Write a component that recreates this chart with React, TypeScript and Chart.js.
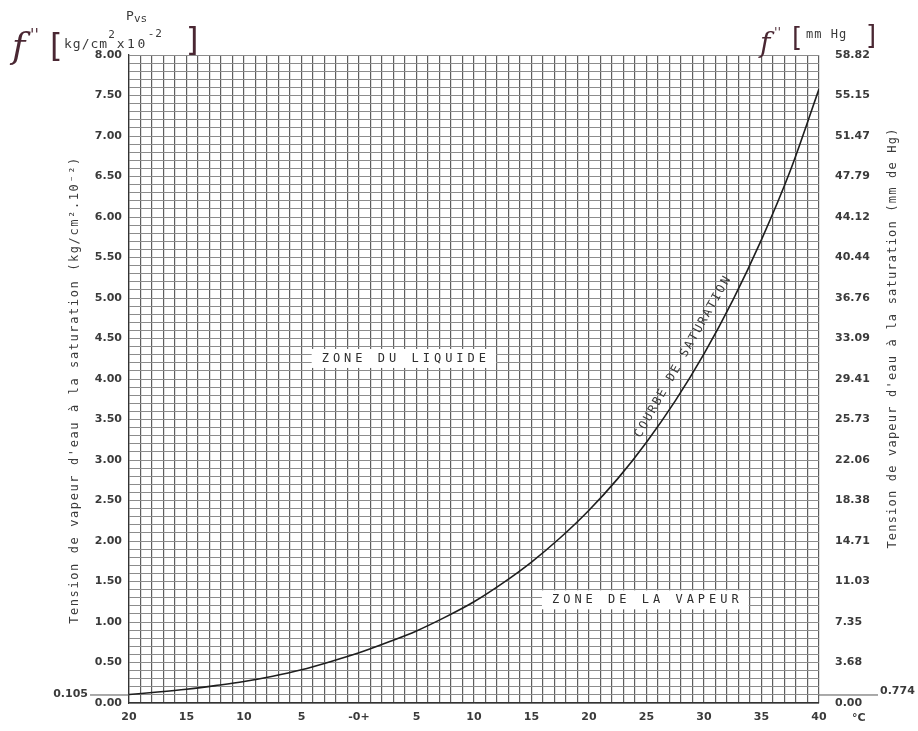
import { useEffect, useRef } from 'react';
import { Chart, registerables } from 'chart.js';

Chart.register(...registerables);

// Temperature (°C) and saturation vapour pressure (kg/cm² x 10⁻²)
const temperatures = [-20, -17.5, -15, -12.5, -10, -7.5, -5, -2.5, 0, 2.5, 5, 7.5, 10, 12.5, 15, 17.5, 20, 22.5, 25, 27.5, 30, 32.5, 35, 37.5, 40];
const pvsValues = [0.105, 0.135, 0.17, 0.215, 0.265, 0.33, 0.41, 0.51, 0.62, 0.75, 0.89, 1.06, 1.25, 1.48, 1.74, 2.04, 2.38, 2.77, 3.22, 3.73, 4.31, 4.97, 5.72, 6.57, 7.58];

const xLabelValues = [-20, -15, -10, -5, 0, 5, 10, 15, 20, 25, 30, 35, 40];
const xLabelTexts = ['20', '15', '10', '5', '-0+', '5', '10', '15', '20', '25', '30', '35', '40'];
const leftTickLabels = ['0.00', '0.50', '1.00', '1.50', '2.00', '2.50', '3.00', '3.50', '4.00', '4.50', '5.00', '5.50', '6.00', '6.50', '7.00', '7.50', '8.00'];
const rightTickLabels = ['0.00', '3.68', '7.35', '11.03', '14.71', '18.38', '22.06', '25.73', '29.41', '33.09', '36.76', '40.44', '44.12', '47.79', '51.47', '55.15', '58.82'];
const mmHgMax = 58.82;
const pvsMax = 8;
const lowLeftValue = 0.105;
const lowLeftLabel = '0.105';
const lowRightLabel = '0.774';

const TICK_FONT = '"DejaVu Sans"';
const MONO = '"DejaVu Sans Mono"';
const INK = '#3a3a3a';
const HAND = '#4a2733';

const overlay = {
  id: 'overlay',
  afterDraw(chart: any) {
    const { ctx, chartArea } = chart;
    const x = chart.scales.x;
    const y = chart.scales.y;
    ctx.save();

    // zone labels with white boxes
    const zone = (text: string, tx: number, ty: number) => {
      const px = x.getPixelForValue(tx);
      const py = y.getPixelForValue(ty);
      ctx.font = `12px ${MONO}`;
      (ctx as any).letterSpacing = '4px';
      const w = ctx.measureText(text).width - 4;
      ctx.fillStyle = '#ffffff';
      ctx.fillRect(px - w / 2 - 10, py - 9, w + 20, 19);
      ctx.fillStyle = '#2e2e2e';
      ctx.textAlign = 'left';
      ctx.textBaseline = 'middle';
      ctx.fillText(text, px - w / 2, py + 1);
    };
    zone('ZONE DU LIQUIDE', 3.9, 4.26);
    zone('ZONE DE LA VAPEUR', 24.9, 1.28);

    // curve label, rotated along the curve
    {
      const px = x.getPixelForValue(28.2);
      const py = y.getPixelForValue(4.28);
      ctx.translate(px, py);
      ctx.rotate(-60.5 * Math.PI / 180);
      ctx.font = `12px ${MONO}`;
      (ctx as any).letterSpacing = '2px';
      ctx.fillStyle = INK;
      ctx.textAlign = 'center';
      ctx.textBaseline = 'middle';
      ctx.fillText('COURBE DE SATURATION', 0, 0);
      ctx.setTransform(1, 0, 0, 1, 0, 0);
    }

    // axis titles
    (ctx as any).letterSpacing = '1.6px';
    ctx.font = `12px ${MONO}`;
    ctx.fillStyle = INK;
    ctx.textAlign = 'center';
    ctx.textBaseline = 'middle';
    ctx.translate(75, 390);
    ctx.rotate(-Math.PI / 2);
    ctx.fillText("Tension de vapeur d'eau à la saturation (kg/cm².10⁻²)", 0, 0);
    ctx.setTransform(1, 0, 0, 1, 0, 0);
    (ctx as any).letterSpacing = '1.2px';
    ctx.translate(893, 338);
    ctx.rotate(-Math.PI / 2);
    ctx.fillText("Tension de vapeur d'eau à la saturation (mm de Hg)", 0, 0);
    ctx.setTransform(1, 0, 0, 1, 0, 0);

    // extra low labels with leader lines
    const lowY = y.getPixelForValue(lowLeftValue);
    ctx.strokeStyle = '#555';
    ctx.lineWidth = 1;
    ctx.beginPath();
    ctx.moveTo(90, lowY + 0.5);
    ctx.lineTo(chartArea.left, lowY + 0.5);
    ctx.moveTo(chartArea.right, lowY + 0.5);
    ctx.lineTo(878, lowY + 0.5);
    ctx.stroke();
    (ctx as any).letterSpacing = '0px';
    ctx.font = `bold 11px ${TICK_FONT}`;
    ctx.textAlign = 'right';
    ctx.fillText(lowLeftLabel, 88, lowY);
    ctx.textAlign = 'left';
    ctx.fillText(lowRightLabel, 880, lowY - 3);
    ctx.fillText('°C', 852, chartArea.bottom + 15);

    // header left
    ctx.textAlign = 'left';
    ctx.textBaseline = 'alphabetic';
    ctx.font = `13px ${MONO}`;
    ctx.fillText('P', 126, 20);
    ctx.font = `11px ${MONO}`;
    ctx.fillText('vs', 134, 22);
    let hx = 64;
    (ctx as any).letterSpacing = '1px';
    ctx.font = `13px ${MONO}`;
    ctx.fillText('kg/cm', hx, 48);
    hx += ctx.measureText('kg/cm').width;
    ctx.font = `11px ${MONO}`;
    ctx.fillText('2', hx, 38);
    hx += ctx.measureText('2').width;
    (ctx as any).letterSpacing = '2.5px';
    ctx.font = `13px ${MONO}`;
    ctx.fillText('x10', hx + 1, 48);
    hx += ctx.measureText('x10').width + 1;
    (ctx as any).letterSpacing = '1px';
    ctx.font = `11px ${MONO}`;
    ctx.fillText('-2', hx, 37);

    // header right
    (ctx as any).letterSpacing = '1px';
    ctx.font = `12px ${MONO}`;
    ctx.fillText('mm Hg', 806, 38);

    // handwritten marks
    (ctx as any).letterSpacing = '0px';
    ctx.fillStyle = HAND;
    ctx.font = `italic 36px "DejaVu Serif"`;
    ctx.fillText('f', 12, 58);
    ctx.font = `italic 16px "DejaVu Serif"`;
    ctx.fillText("''", 30, 40);
    ctx.font = `32px "DejaVu Sans"`;
    ctx.fillText('[', 50, 56);
    ctx.fillText(']', 186, 50);
    ctx.font = `italic 28px "DejaVu Serif"`;
    ctx.fillText('f', 760, 52);
    ctx.font = `italic 13px "DejaVu Serif"`;
    ctx.fillText("''", 774, 37);
    ctx.font = `26px "DejaVu Sans"`;
    ctx.fillText('[', 792, 46);
    ctx.fillText(']', 866, 44);

    ctx.restore();
  },
};

export default function App() {
  const ref = useRef<HTMLCanvasElement | null>(null);

  useEffect(() => {
    document.body.style.margin = '0';
    const canvas = ref.current;
    if (!canvas) return;
    const points = temperatures.map((t, i) => ({ x: t, y: pvsValues[i] }));

    const chart = new Chart(canvas, {
      type: 'line',
      data: {
        datasets: [
          {
            data: points,
            borderColor: '#1e1e1e',
            borderWidth: 1.6,
            pointRadius: 0,
            cubicInterpolationMode: 'monotone',
            fill: false,
          },
        ],
      },
      options: {
        responsive: false,
        animation: false,
        devicePixelRatio: 1,
        layout: { padding: { top: 55, left: 0, right: 0, bottom: 0 } },
        plugins: { legend: { display: false }, tooltip: { enabled: false } },
        scales: {
          x: {
            type: 'linear',
            min: -20,
            max: 40,
            afterBuildTicks: (s: any) => {
              const t = [];
              for (let v = -20; v <= 40; v++) t.push({ value: v });
              s.ticks = t;
            },
            afterFit: (s: any) => { s.height = 28; },
            ticks: {
              autoSkip: false,
              maxRotation: 0,
              padding: 8,
              color: INK,
              font: { family: TICK_FONT, size: 11, weight: 'bold' },
              callback: (v: any) => {
                const i = xLabelValues.indexOf(Math.round(Number(v)));
                return i >= 0 && Math.round(Number(v)) === Number(v) ? xLabelTexts[i] : '';
              },
            },
            grid: { color: '#5e5e5e', lineWidth: 1.2, drawTicks: false },
            border: { display: true, color: '#333', width: 1.3 },
          },
          y: {
            type: 'linear',
            position: 'left',
            min: 0,
            max: pvsMax,
            afterBuildTicks: (s: any) => {
              const t = [];
              for (let i = 0; i <= 80; i++) t.push({ value: i / 10 });
              s.ticks = t;
            },
            afterFit: (s: any) => { s.width = 129; },
            ticks: {
              autoSkip: false,
              padding: 7,
              color: INK,
              font: { family: TICK_FONT, size: 11, weight: 'bold' },
              callback: (v: any) => {
                const k = Math.round(Number(v) * 10);
                return k % 5 === 0 ? leftTickLabels[k / 5] : '';
              },
            },
            grid: { color: '#8c8c8c', lineWidth: 1, drawTicks: false },
            border: { display: true, color: '#333', width: 1.3 },
          },
          y2: {
            type: 'linear',
            position: 'right',
            min: 0,
            max: mmHgMax,
            afterBuildTicks: (s: any) => {
              s.ticks = rightTickLabels.map((_, i) => ({ value: (i / (rightTickLabels.length - 1)) * mmHgMax }));
            },
            afterFit: (s: any) => { s.width = 99; },
            ticks: {
              autoSkip: false,
              padding: 16,
              color: INK,
              font: { family: TICK_FONT, size: 11, weight: 'bold' },
              callback: (_v: any, i: number) => rightTickLabels[i],
            },
            grid: { display: false, drawTicks: false },
            border: { display: false },
          },
        },
      },
      plugins: [overlay],
    } as any);

    return () => chart.destroy();
  }, []);

  return (
    <div style={{ width: 918, height: 731, background: '#fff' }}>
      <canvas ref={ref} width={918} height={731} style={{ display: 'block' }} />
    </div>
  );
}
